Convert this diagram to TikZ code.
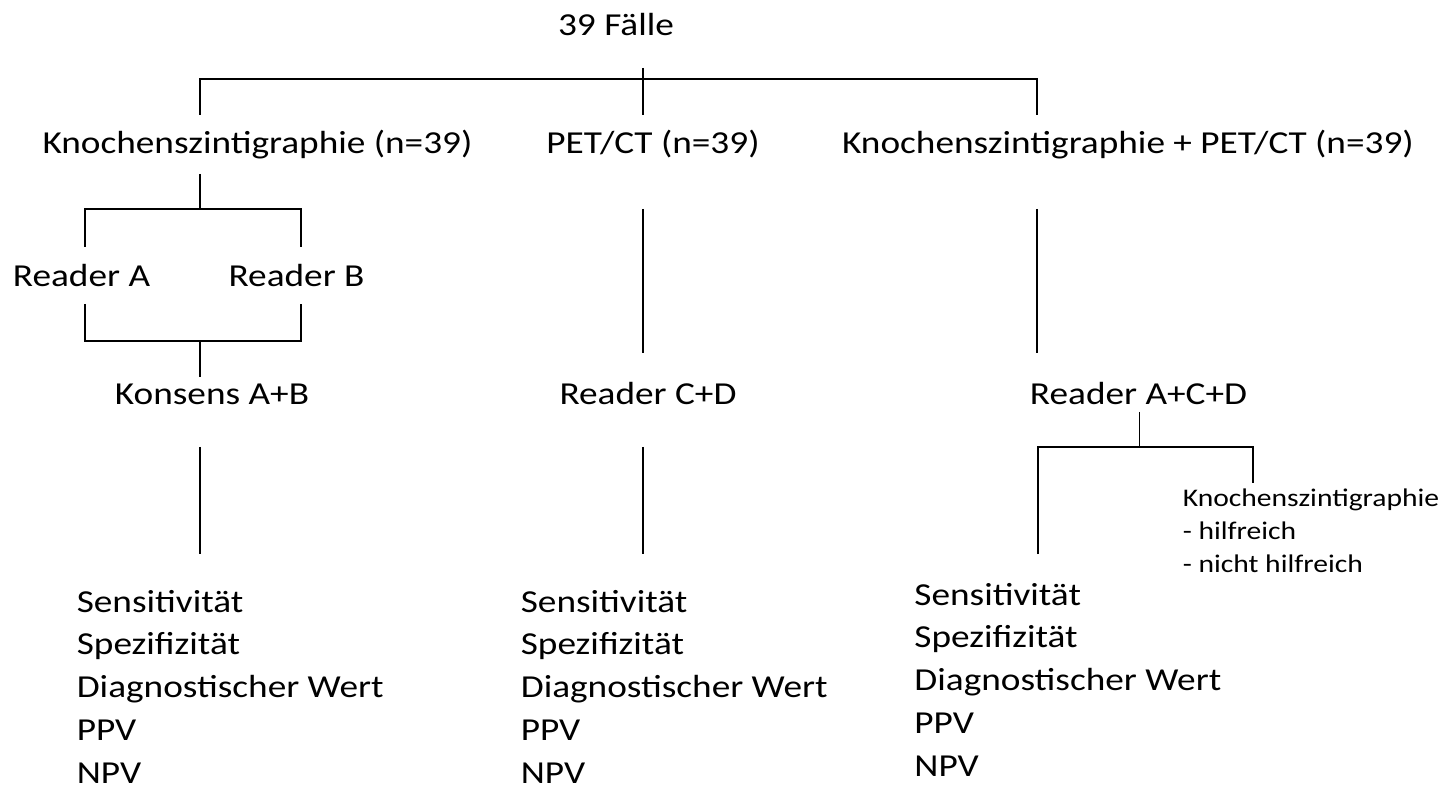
\documentclass[tikz,border=0pt]{standalone}
\usepackage{fontspec}
\setmainfont{Carlito}
\usetikzlibrary{positioning}

\begin{document}
\begin{tikzpicture}[x=0.5pt, y=-0.5pt, line width=0.7pt,
  every node/.style={xscale=1.165, inner sep=0pt, font=\fontsize{16}{21.5}\selectfont},
  smalltext/.style={font=\fontsize{12.7}{16.5}\selectfont}]
\useasboundingbox[fill=white] (0,0) rectangle (1449,790);
% Draw headings
\node[anchor=base] (faelle) at (616,36) {39 Fälle};
\node[anchor=base] (ks) at (257.5,154) {Knochenszintigraphie (n=39)};
\node[anchor=base] (pet) at (653,154) {PET/CT (n=39)};
\node[anchor=base] (kspet) at (1128,154) {Knochenszintigraphie + PET/CT (n=39)};
% Draw readers
\node[anchor=base] (ra) at (81.5,287) {Reader A};
\node[anchor=base] (rb) at (296.5,287) {Reader B};
\node[anchor=base] (konsens) at (212,405) {Konsens A+B};
\node[anchor=base] (rcd) at (648,405) {Reader C+D};
\node[anchor=base] (racd) at (1138.5,405) {Reader A+C+D};
% Draw side note
\foreach \t [count=\i] in {Knochenszintigraphie, - hilfreich, - nicht hilfreich}
    \node[smalltext, anchor=base west] (note-\i) at (1182,{506+33*(\i-1)}) {\t};
% Draw result lists
\foreach \x/\y/\c in {76/612/a, 520/612/b, 913.6/605/c}
    \foreach \t [count=\i] in {Sensitivität, Spezifizität, Diagnostischer Wert, PPV, NPV}
        \node[anchor=base west] (list-\c-\i) at (\x,{\y+42.8*(\i-1)}) {\t};
% Draw connectors
\coordinate (top-in) at (643,68);
\coordinate (top-mid) at (643,115);
\coordinate (top-l) at (200,115);
\coordinate (top-r) at (1037,115);
\draw (top-in) -- (top-mid);
\draw (top-l) -- ++(0,-36) -| (top-r);
\coordinate (ks-out) at (200,174);
\coordinate (ra-in) at (85,247);
\coordinate (rb-in) at (301,247);
\draw (ks-out) -- ++(0,35);
\draw (ra-in) -- ++(0,-38) -| (rb-in);
\coordinate (ra-out) at (85,304);
\coordinate (rb-out) at (301,304);
\coordinate (konsens-in) at (200,377);
\draw (ra-out) -- ++(0,37) -| (rb-out);
\draw (konsens-in) -- ++(0,-36);
\coordinate (konsens-out) at (200,447);
\coordinate (list-a-in) at (200,554);
\draw (konsens-out) -- (list-a-in);
\coordinate (pet-out) at (643,209);
\coordinate (rcd-in) at (643,353);
\draw (pet-out) -- (rcd-in);
\coordinate (rcd-out) at (643,447);
\coordinate (list-b-in) at (643,554);
\draw (rcd-out) -- (list-b-in);
\coordinate (kspet-out) at (1037,209);
\coordinate (racd-in) at (1037,353);
\draw (kspet-out) -- (racd-in);
\coordinate (racd-out) at (1139.5,412);
\coordinate (list-c-in) at (1038,554);
\coordinate (note-in) at (1253,483);
\draw (racd-out) -- ++(0,35);
\draw (list-c-in) -- ++(0,-107) -| (note-in);
\end{tikzpicture}
\end{document}
